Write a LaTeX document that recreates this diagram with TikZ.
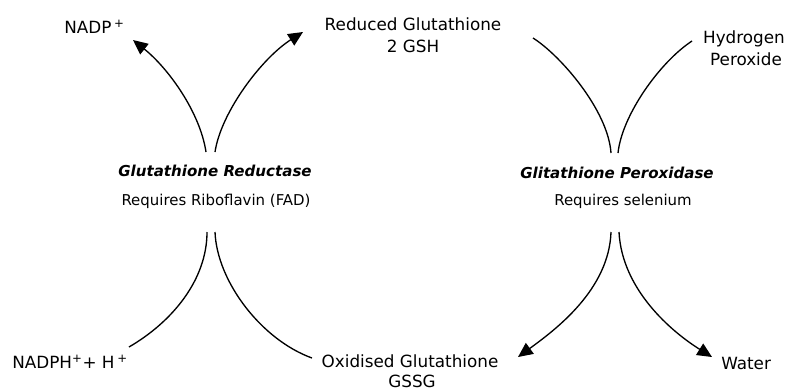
\documentclass[tikz,border=0pt]{standalone}
\usepackage{fontspec}
\setmainfont{DejaVu Sans}
\usetikzlibrary{arrows.meta}
\tikzset{
  big/.style={inner sep=0pt, font=\fontsize{12.6}{15}\selectfont, anchor=base},
  small/.style={inner sep=0pt, font=\fontsize{11.2}{13}\selectfont, anchor=base},
  enz/.style={inner sep=0pt, font=\fontsize{11.3}{13}\selectfont\bfseries\itshape, anchor=base},
  flow/.style={line width=1pt, black},
  flowarrow/.style={flow, -{Triangle[length=11pt, width=10pt]}}
}
\begin{document}
\begin{tikzpicture}[x=0.75pt, y=-0.75pt]
\useasboundingbox (0,0) rectangle (787,390);
% labels
\node[big, anchor=base west] (nadp) at (64,33) {NADP\,\textsuperscript{+}};
\node[big] (red1) at (413,30) {Reduced Glutathione};
\node[big] (red2) at (413,52) {2 GSH};
\node[big] (hyd1) at (744,43) {Hydrogen};
\node[big] (hyd2) at (746,65) {Peroxide};
\node[enz] (gr) at (215,176) {Glutathione Reductase};
\node[small] (grr) at (216,205) {Requires Riboflavin (FAD)};
\node[enz] (gp) at (617,178) {Glitathione Peroxidase};
\node[small] (gpr) at (623,205) {Requires selenium};
\node[big, anchor=base west] (nadph) at (12,368) {NADPH\textsuperscript{+}+ H\,\textsuperscript{+}};
\node[big] (ox1) at (410,367) {Oxidised Glutathione};
\node[big] (ox2) at (412,387) {GSSG};
\node[big, anchor=base west] (water) at (721,369) {Water};
% connector end points
\coordinate (grTopL) at (206,152);
\coordinate (grTopR) at (215,152);
\coordinate (grBotL) at (207,232);
\coordinate (grBotR) at (215,232);
\coordinate (gpTopL) at (611,153);
\coordinate (gpTopR) at (618,153);
\coordinate (gpBotL) at (611,232);
\coordinate (gpBotR) at (619,232);
\coordinate (nadpEnd) at (133,40);
\coordinate (gshEnd) at (303,32);
\coordinate (nadphEnd) at (129,347);
\coordinate (gssgEnd) at (312,358);
\coordinate (gshStart) at (533,38);
\coordinate (h2o2Start) at (692,41);
\coordinate (gssgTip) at (518,357);
\coordinate (waterTip) at (712,357);
% reductase
\draw[flowarrow] (grTopL) .. controls (200,112) and (168,68) .. (nadpEnd);
\draw[flowarrow] (grTopR) .. controls (221,112) and (262,58) .. (gshEnd);
\draw[flow] (grBotL) .. controls (207,280) and (172,322) .. (nadphEnd);
\draw[flow] (grBotR) .. controls (217,282) and (262,340) .. (gssgEnd);
% peroxidase
\draw[flow] (gshStart) .. controls (560,55) and (608,110) .. (gpTopL);
\draw[flow] (h2o2Start) .. controls (660,62) and (622,115) .. (gpTopR);
\draw[flowarrow] (gpBotL) .. controls (609,290) and (555,330) .. (gssgTip);
\draw[flowarrow] (gpBotR) .. controls (622,290) and (672,332) .. (waterTip);
\end{tikzpicture}
\end{document}
